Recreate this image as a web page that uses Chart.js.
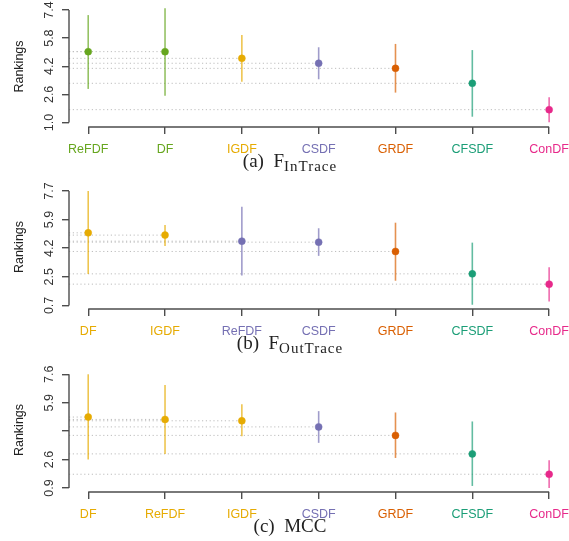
<!DOCTYPE html>
<html>
<head>
<meta charset="utf-8">
<script src="https://cdn.jsdelivr.net/npm/chart.js@4"></script>
<style>
*{margin:0;padding:0;box-sizing:border-box}
body{width:569px;height:541px;background:#fff;position:relative;overflow:hidden;font-family:'Liberation Sans',Arial,sans-serif}
.panel{position:absolute;left:0;width:569px}
.cap{position:absolute;left:170px;width:240px;text-align:center;font-family:'Liberation Serif','DejaVu Serif',serif;font-size:19px;line-height:20px;color:#222;white-space:nowrap}
.cap sub{font-size:15px;letter-spacing:1px;vertical-align:-4px;line-height:0}
</style>
</head>
<body>
<div class="panel" style="top:0;height:160px"><canvas id="chartA"></canvas></div>
<div class="cap" style="top:151px">(a)&nbsp;&nbsp;F<sub>InTrace</sub></div>
<div class="panel" style="top:179px;height:163px"><canvas id="chartB"></canvas></div>
<div class="cap" style="top:333px">(b)&nbsp;&nbsp;F<sub>OutTrace</sub></div>
<div class="panel" style="top:362px;height:163px"><canvas id="chartC"></canvas></div>
<div class="cap" style="top:516px">(c)&nbsp;&nbsp;MCC</div>

<script>
const GREEN = "#66a61e", YELLOW = "#e6ab02", PURPLE = "#7570b3", ORANGE = "#d95f02", TEAL = "#1b9e77", PINK = "#e7298a";

// (a) F_InTrace
const catsA = ["ReFDF", "DF", "IGDF", "CSDF", "GRDF", "CFSDF", "ConDF"];
const meanA = [5.03, 5.03, 4.65, 4.37, 4.08, 3.23, 1.73];
const lowA = [2.91, 2.52, 3.32, 3.46, 2.70, 1.33, 1.01];
const highA = [7.11, 7.50, 5.98, 5.28, 5.47, 5.12, 2.43];
const colorA = [GREEN, GREEN, YELLOW, PURPLE, ORANGE, TEAL, PINK];
const tickValA = [1.0, 2.6, 4.2, 5.8, 7.4];
const tickLblA = ["1.0", "2.6", "4.2", "5.8", "7.4"];

// (b) F_OutTrace
const catsB = ["DF", "IGDF", "ReFDF", "CSDF", "GRDF", "CFSDF", "ConDF"];
const meanB = [5.14, 5.00, 4.63, 4.57, 4.00, 2.63, 2.00];
const lowB = [2.62, 4.34, 2.53, 3.73, 2.21, 0.74, 0.94];
const highB = [7.70, 5.62, 6.74, 5.42, 5.76, 4.54, 3.04];
const colorB = [YELLOW, YELLOW, PURPLE, PURPLE, ORANGE, TEAL, PINK];
const tickValB = [0.7, 2.45, 4.2, 5.95, 7.7];
const tickLblB = ["0.7", "2.5", "4.2", "5.9", "7.7"];

// (c) MCC
const catsC = ["DF", "ReFDF", "IGDF", "CSDF", "GRDF", "CFSDF", "ConDF"];
const meanC = [5.08, 4.94, 4.86, 4.50, 4.00, 2.91, 1.71];
const lowC = [2.58, 2.91, 3.95, 3.56, 2.67, 1.02, 0.90];
const highC = [7.60, 6.97, 5.83, 5.43, 5.35, 4.82, 2.54];
const colorC = [YELLOW, YELLOW, YELLOW, PURPLE, ORANGE, TEAL, PINK];
const tickValC = [0.9, 2.575, 4.25, 5.925, 7.6];
const tickLblC = ["0.9", "2.6", "", "5.9", "7.6"];

const AXIS = "#4d4d4d";
const XMIN = -0.25, XMAX = 6.2;

// R-style axis lines: only from first to last tick
const rAxes = {
  id: "rAxes",
  afterDraw(chart, args, opts) {
    const {ctx, chartArea, scales: {x, y}} = chart;
    ctx.save();
    ctx.strokeStyle = AXIS;
    ctx.lineWidth = 1.4;
    ctx.beginPath();
    ctx.moveTo(x.getPixelForValue(0), chartArea.bottom);
    ctx.lineTo(x.getPixelForValue(opts.n - 1), chartArea.bottom);
    ctx.moveTo(chartArea.left, y.getPixelForValue(opts.t0));
    ctx.lineTo(chartArea.left, y.getPixelForValue(opts.t1));
    ctx.stroke();
    ctx.restore();
  }
};

function makeChart(id, cats, mean, low, high, colors, tickVals, tickLbls, yMin, yMax) {
  const datasets = [];
  datasets.push({
    data: mean.map((v, i) => ({x: i, y: v})),
    pointRadius: 3.5, pointBorderWidth: 0.5,
    pointBackgroundColor: colors, pointBorderColor: colors,
    order: 0, clip: false
  });
  mean.forEach((v, i) => {
    datasets.push({
      data: [{x: i, y: low[i]}, {x: i, y: high[i]}],
      showLine: true, borderColor: colors[i] + "b0", borderWidth: 1.6,
      pointRadius: 0, order: 1, clip: false
    });
    datasets.push({
      data: [{x: XMIN, y: v}, {x: i, y: v}],
      showLine: true, borderColor: "#bdbdbd", borderWidth: 1, borderDash: [1.2, 2.6],
      pointRadius: 0, order: 2, clip: false
    });
  });

  new Chart(document.getElementById(id), {
    type: "scatter",
    data: {datasets},
    plugins: [rAxes],
    options: {
      responsive: true, maintainAspectRatio: false, animation: false, events: [],
      layout: {padding: {left: 5, right: 4, top: 6, bottom: 3}},
      plugins: {legend: {display: false}, tooltip: {enabled: false}, rAxes: {n: cats.length, t0: tickVals[0], t1: tickVals[tickVals.length - 1]}},
      scales: {
        x: {
          type: "linear", min: XMIN, max: XMAX,
          afterBuildTicks: s => { s.ticks = cats.map((c, i) => ({value: i})); },
          afterFit: s => { s.height = 30; s.paddingLeft = 0; s.paddingRight = 0; },
          ticks: {callback: v => cats[v], color: c => colors[c.index], font: {size: 12.5, family: "'Liberation Sans', Arial"}, padding: 8.5, autoSkip: false, maxRotation: 0},
          grid: {drawOnChartArea: false, drawTicks: true, tickLength: 7, color: AXIS, lineWidth: 1.4},
          border: {display: false}
        },
        y: {
          type: "linear", min: yMin, max: yMax,
          afterBuildTicks: s => { s.ticks = tickVals.map(v => ({value: v})); },
          afterFit: s => { s.width = 64; s.paddingTop = 0; s.paddingBottom = 0; },
          ticks: {callback: (v, i) => tickLbls[i], color: "#333", minRotation: 90, maxRotation: 90, crossAlign: "center", padding: 4, font: {size: 12.5, family: "'Liberation Sans', Arial"}},
          grid: {drawOnChartArea: false, drawTicks: true, tickLength: 7, color: AXIS, lineWidth: 1.4},
          border: {display: false},
          title: {display: true, text: "Rankings", color: "#222", font: {size: 12.5, family: "'Liberation Sans', Arial"}, padding: {top: 7}}
        }
      }
    }
  });
}

makeChart("chartA", catsA, meanA, lowA, highA, colorA, tickValA, tickLblA, 0.744, 7.627);
makeChart("chartB", catsB, meanB, lowB, highB, colorB, tickValB, tickLblB, 0.48, 8.066);
makeChart("chartC", catsC, meanC, lowC, highC, colorC, tickValC, tickLblC, 0.664, 7.97);
</script>
</body>
</html>
